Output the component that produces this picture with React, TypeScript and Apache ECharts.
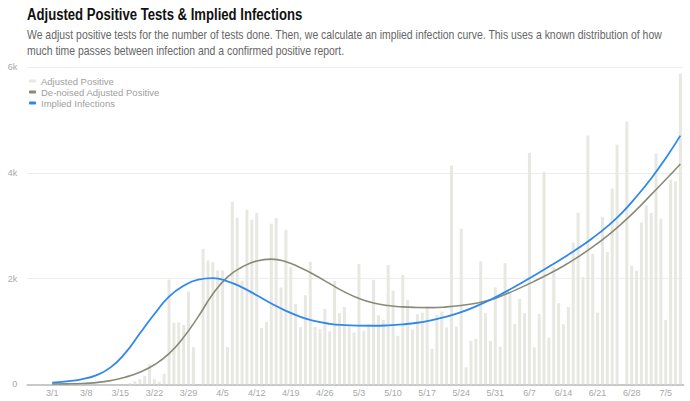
import React, { useEffect, useRef } from "react";
import * as echarts from "echarts";

const titleText = "Adjusted Positive Tests & Implied Infections";
const subtitleLines = [
  "We adjust positive tests for the number of tests done. Then, we calculate an implied infection curve. This uses a known distribution of how",
  "much time passes between infection and a confirmed positive report.",
];

const seriesNames = ["Adjusted Positive", "De-noised Adjusted Positive", "Implied Infections"];

// day index 0 = 3/1
const tickDays = [0, 7, 14, 21, 28, 35, 42, 49, 56, 63, 70, 77, 84, 91, 98, 105, 112, 119, 126];
const tickLabels = ["3/1", "3/8", "3/15", "3/22", "3/29", "4/5", "4/12", "4/19", "4/26", "5/3", "5/10", "5/17", "5/24", "5/31", "6/7", "6/14", "6/21", "6/28", "7/5"];

const adjustedPositive = [
  0, 0, 0, 0, 0, 0, 0, 0, 0, 0,
  0, 0, 0, 0, 0, 0, 20, 60, 100, 160,
  380, 95, 50, 195, 1980, 1165, 1170, 1124, 1755, 705,
  0, 2565, 2344, 2313, 2155, 2155, 705, 3456, 3153, 1960,
  3305, 3115, 3242, 1067, 1181, 3039, 3147, 1832, 2920, 2218,
  1522, 1080, 1687, 2320, 1086, 1048, 1427, 1005, 1955, 1345,
  1462, 1093, 982, 2278, 1017, 1143, 1977, 1307, 1219, 2256,
  1775, 916, 2072, 1598, 1035, 1327, 1358, 1471, 669, 1314,
  1380, 1077, 4140, 1093, 2944, 322, 820, 860, 2325, 1345,
  820, 1835, 713, 2294, 1750, 1143, 1617, 1345, 4379, 701,
  1330, 4019, 884, 2224, 1535, 1137, 1465, 2685, 3249, 2028,
  4708, 2470, 1358, 3166, 2502, 3709, 4537, 0, 4973, 2243,
  2148, 3064, 3386, 3242, 4367, 3134, 1219, 3873, 3841, 5882,
];

const curveDays = [0, 3, 6, 9, 12, 15, 18, 21, 24, 27, 30, 33, 36, 39, 42, 45, 48, 51, 54, 57, 60, 63, 66, 69, 72, 75, 78, 81, 84, 87, 90, 93, 96, 99, 102, 105, 108, 111, 114, 117, 120, 123, 126, 129];
const denoisedValues = [5, 8, 15, 32, 70, 135, 230, 370, 580, 890, 1280, 1710, 2030, 2220, 2335, 2370, 2320, 2205, 2065, 1905, 1750, 1625, 1540, 1490, 1465, 1455, 1452, 1465, 1493, 1535, 1598, 1700, 1820, 1950, 2090, 2240, 2410, 2600, 2810, 3045, 3305, 3590, 3875, 4171];
const impliedValues = [32, 55, 95, 170, 320, 590, 960, 1330, 1660, 1865, 1980, 2008, 1950, 1835, 1685, 1530, 1390, 1278, 1195, 1145, 1120, 1110, 1108, 1116, 1135, 1165, 1215, 1280, 1365, 1475, 1600, 1745, 1900, 2060, 2225, 2395, 2575, 2770, 2990, 3245, 3555, 3895, 4280, 4707];

const yTicks = [0, 2000, 4000, 6000];

export default function App() {
  const ref = useRef<HTMLDivElement>(null);
  useEffect(() => {
    if (!ref.current) return;
    const chart = echarts.init(ref.current, null, { renderer: "svg" });
    const font = '"Liberation Sans", Arial, Helvetica, sans-serif';
    const option = {
      animation: false,
      textStyle: { fontFamily: font },
      graphic: [
        {
          type: "text",
          x: 27,
          y: 15,
          scaleX: 0.82,
          style: {
            text: titleText,
            fill: "#111",
            font: `bold 16px ${font}`,
            verticalAlign: "middle",
            align: "left",
          },
        },
        {
          type: "text",
          x: 27,
          y: 35,
          scaleX: 0.87,
          style: {
            text: subtitleLines[0],
            fill: "#666",
            font: `12px ${font}`,
            verticalAlign: "middle",
            align: "left",
          },
        },
        {
          type: "text",
          x: 27,
          y: 51,
          scaleX: 0.87,
          style: {
            text: subtitleLines[1],
            fill: "#666",
            font: `12px ${font}`,
            verticalAlign: "middle",
            align: "left",
          },
        },
      ],
      legend: {
        data: seriesNames,
        orient: "vertical",
        left: 24,
        top: 71,
        itemWidth: 7,
        itemHeight: 3,
        itemGap: 1,
        icon: "roundRect",
        textStyle: { fontSize: 9.5, color: "#a0a0a0", fontFamily: font },
        selectedMode: false,
      },
      grid: { left: 27.3, right: 6.7, top: 67.3, bottom: 16.7 },
      xAxis: {
        type: "value",
        min: -5.1,
        max: 129.6,
        splitLine: { show: false },
        axisTick: { show: false },
        axisLine: { show: true, lineStyle: { color: "#c8c8c8", width: 2 } },
        axisLabel: {
          customValues: tickDays,
          color: "#a8a8a8",
          fontSize: 9,
          margin: 4,
          formatter: (v: number) => {
            const i = tickDays.indexOf(Math.round(v));
            return i >= 0 ? tickLabels[i] : "";
          },
        },
      },
      yAxis: {
        type: "value",
        min: 0,
        max: 6000,
        interval: 2000,
        axisLine: { show: false },
        axisTick: { show: false },
        splitLine: { lineStyle: { color: "#ededed", width: 1 } },
        axisLabel: {
          color: "#a8a8a8",
          fontSize: 9,
          margin: 10,
          formatter: (v: number) => (yTicks.indexOf(v) > 0 ? v / 1000 + "k" : "0"),
        },
      },
      series: [
        {
          name: seriesNames[0],
          type: "bar",
          barWidth: 3,
          itemStyle: { color: "#e8e8e2" },
          color: "#e8e8e2",
          data: adjustedPositive.map((v, i) => [i, v]),
        },
        {
          name: seriesNames[1],
          type: "line",
          smooth: 0.5,
          showSymbol: false,
          color: "#8a8a78",
          itemStyle: { color: "#8a8a78" },
          lineStyle: { color: "#8a8a78", width: 1.6 },
          data: curveDays.map((d, i) => [d, denoisedValues[i]]),
        },
        {
          name: seriesNames[2],
          type: "line",
          smooth: 0.5,
          showSymbol: false,
          color: "#2f88f0",
          itemStyle: { color: "#2f88f0" },
          lineStyle: { color: "#2f88f0", width: 1.8 },
          data: curveDays.map((d, i) => [d, impliedValues[i]]),
        },
      ],
    };
    chart.setOption(option as any);
    return () => chart.dispose();
  }, []);
  return (
    <div
      ref={ref}
      style={{ position: "fixed", left: 0, top: 0, width: 690, height: 401, background: "#fff" }}
    />
  );
}
